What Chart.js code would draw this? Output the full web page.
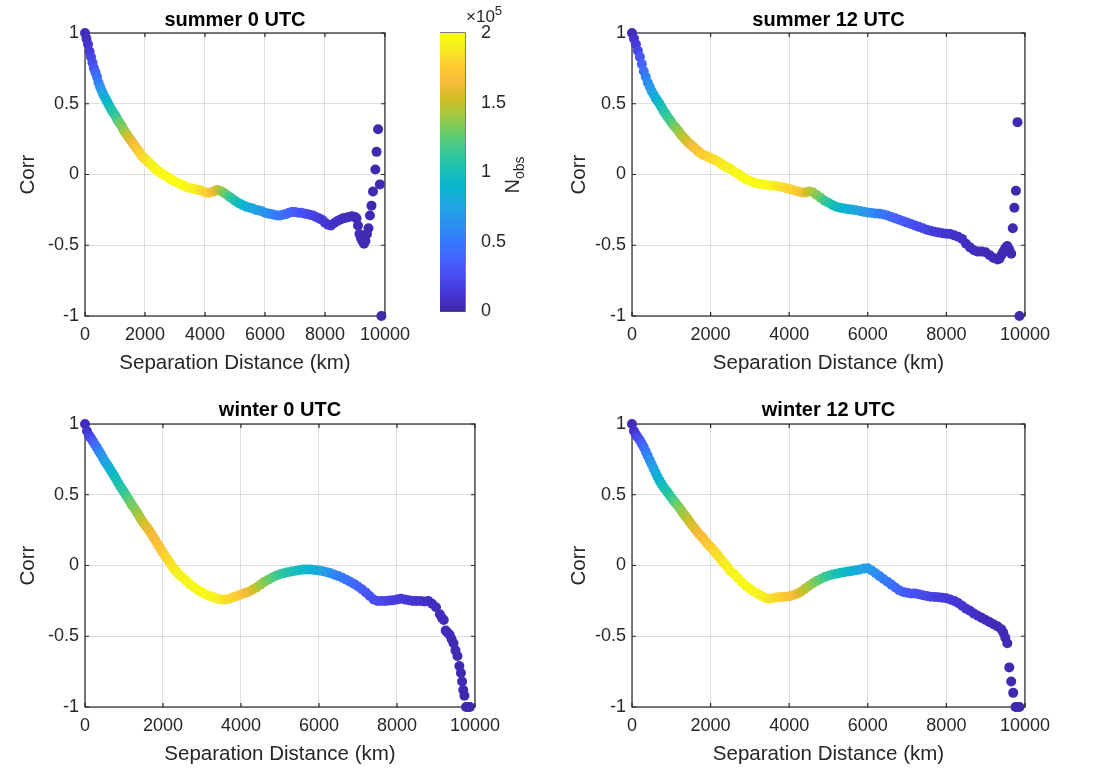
<!DOCTYPE html>
<html>
<head>
<meta charset="utf-8">
<script src="https://cdn.jsdelivr.net/npm/chart.js@4.4.1/dist/chart.umd.min.js"></script>
<style>
  body { margin: 0; background: #fff; width: 1094px; height: 771px; position: relative; overflow: hidden;
         font-family: 'Liberation Sans', Arial, Helvetica, sans-serif; color: #262626; }
  canvas { position: absolute; }
  #cbExp { position: absolute; left: 466px; top: 3px; font-size: 17px; }
  #cbExp sup { font-size: 13px; }
  #cbLabel { position: absolute; left: 514px; top: 175px; font-size: 20px; white-space: nowrap;
             transform: translate(-50%, -50%) rotate(-90deg); }
  #cbLabel sub { font-size: 14px; }
</style>
</head>
<body>
<canvas id="pA" width="418" height="378" style="left:0;top:0"></canvas>
<canvas id="pB" width="507" height="378" style="left:551px;top:0"></canvas>
<canvas id="pC" width="508" height="384" style="left:0;top:385px"></canvas>
<canvas id="pD" width="507" height="384" style="left:551px;top:385px"></canvas>
<canvas id="cb" width="80" height="330" style="left:440px;top:0"></canvas>
<div id="cbExp">&times;10<sup>5</sup></div>
<div id="cbLabel">N<sub>obs</sub></div>
<script>
// distance bins (km), shared by the dense part of every panel
const binKm = [0,100,200,300,400,500,600,700,800,900,1000,1100,1200,1300,1400,1500,1600,1700,1800,1900,
  2000,2100,2200,2300,2400,2500,2600,2700,2800,2900,3000,3100,3200,3300,3400,3500,3600,3700,3800,3900,
  4000,4100,4200,4300,4400,4500,4600,4700,4800,4900,5000,5100,5200,5300,5400,5500,5600,5700,5800,5900,
  6000,6100,6200,6300,6400,6500,6600,6700,6800,6900,7000,7100,7200,7300,7400,7500,7600,7700,7800,7900,
  8000,8100,8200,8300,8400,8500,8600,8700,8800,8900,9000];
// extra bins on the steep first part of the curves
const halfKm = [50,150,250,350,450,550,650,750,850,950,1050,1150,1250,1350,1450,1550,1650,1750,1850,1950,
  2050,2150,2250,2350,2450];

// summer 0 UTC
const sum0Corr = [1.00,0.92,0.83,0.75,0.69,0.62,0.57,0.53,0.49,0.45,
  0.42,0.38,0.35,0.31,0.28,0.25,0.22,0.19,0.16,0.13,
  0.11,0.09,0.07,0.05,0.03,0.015,0.00,-0.01,-0.025,-0.04,
  -0.05,-0.06,-0.07,-0.08,-0.09,-0.095,-0.10,-0.105,-0.11,-0.115,
  -0.125,-0.13,-0.125,-0.12,-0.11,-0.115,-0.125,-0.14,-0.155,-0.17,
  -0.185,-0.20,-0.21,-0.22,-0.23,-0.235,-0.24,-0.25,-0.255,-0.26,
  -0.27,-0.275,-0.28,-0.285,-0.29,-0.29,-0.285,-0.28,-0.27,-0.265,
  -0.265,-0.27,-0.27,-0.275,-0.28,-0.285,-0.29,-0.30,-0.31,-0.32,
  -0.34,-0.355,-0.36,-0.345,-0.33,-0.32,-0.31,-0.305,-0.30,-0.295,
  -0.30];
const sum0Nobs = [0.05,0.1,0.2,0.3,0.45,0.6,0.75,0.85,0.95,1.05,
  1.1,1.2,1.3,1.35,1.45,1.55,1.62,1.7,1.75,1.8,
  1.82,1.85,1.9,1.92,1.95,1.97,1.98,1.99,2.0,2.0,
  2.0,2.0,2.0,1.99,1.97,1.95,1.92,1.9,1.87,1.83,
  1.8,1.77,1.72,1.65,1.55,1.45,1.35,1.28,1.2,1.12,
  1.05,1.0,0.95,0.9,0.87,0.83,0.8,0.76,0.73,0.7,
  0.66,0.62,0.58,0.55,0.52,0.49,0.46,0.43,0.4,0.37,
  0.34,0.32,0.3,0.28,0.26,0.24,0.22,0.2,0.18,0.16,
  0.14,0.12,0.11,0.1,0.09,0.08,0.07,0.06,0.06,0.05,
  0.04];
const sum0HalfCorr = [0.96,0.87,0.79,0.72,0.65,0.595,0.55,0.51,0.47,0.435,0.40,0.365,0.33,0.295,0.265,
  0.235,0.205,0.175,0.145,0.12,0.10,0.08,0.06,0.04,0.022];
const sum0HalfNobs = [0.07,0.15,0.25,0.38,0.52,0.68,0.8,0.9,1.0,1.08,1.15,1.25,1.32,1.4,1.5,
  1.58,1.66,1.72,1.78,1.81,1.84,1.88,1.91,1.94,1.96];
const sum0TailKm   = [9050,9100,9150,9200,9250,9280,9300,9350,9400,9450,9500,9550,9600,9680,9720,9770,9830,9880];
const sum0TailCorr = [-0.31,-0.36,-0.42,-0.45,-0.47,-0.44,-0.49,-0.47,-0.42,-0.38,-0.29,-0.22,-0.12,0.035,0.16,0.32,-0.07,-1.0];
const sum0TailNobs = [0.04,0.04,0.04,0.035,0.035,0.035,0.03,0.03,0.03,0.03,0.03,0.025,0.025,0.02,0.02,0.02,0.02,0.01];

// summer 12 UTC
const sum12Corr = [1.00,0.92,0.83,0.73,0.65,0.59,0.54,0.50,0.45,0.41,
  0.37,0.335,0.30,0.265,0.235,0.21,0.185,0.16,0.14,0.13,
  0.115,0.105,0.09,0.07,0.055,0.04,0.02,0.005,-0.015,-0.035,
  -0.045,-0.055,-0.063,-0.068,-0.073,-0.077,-0.08,-0.083,-0.088,-0.095,
  -0.103,-0.11,-0.118,-0.125,-0.128,-0.12,-0.125,-0.145,-0.165,-0.185,
  -0.20,-0.215,-0.228,-0.235,-0.24,-0.245,-0.248,-0.252,-0.258,-0.264,
  -0.268,-0.272,-0.275,-0.278,-0.282,-0.29,-0.30,-0.31,-0.32,-0.33,
  -0.34,-0.35,-0.36,-0.37,-0.38,-0.39,-0.398,-0.405,-0.41,-0.415,
  -0.418,-0.42,-0.43,-0.44,-0.455,-0.49,-0.515,-0.535,-0.545,-0.545,
  -0.55];
const sum12Nobs = [0.05,0.15,0.3,0.45,0.6,0.72,0.82,0.95,1.05,1.12,
  1.2,1.3,1.38,1.45,1.52,1.6,1.68,1.72,1.75,1.78,
  1.8,1.82,1.85,1.88,1.9,1.92,1.94,1.96,1.98,2.0,
  2.0,2.0,2.0,2.0,2.0,1.97,1.93,1.88,1.85,1.82,
  1.8,1.78,1.75,1.7,1.6,1.5,1.42,1.35,1.27,1.18,
  1.1,1.03,0.98,0.94,0.9,0.86,0.82,0.78,0.74,0.7,
  0.66,0.62,0.58,0.54,0.5,0.46,0.42,0.39,0.36,0.33,
  0.3,0.28,0.26,0.24,0.22,0.2,0.18,0.16,0.14,0.13,
  0.12,0.11,0.1,0.09,0.08,0.07,0.06,0.06,0.05,0.05,
  0.04];
const sum12HalfCorr = [0.96,0.875,0.78,0.69,0.62,0.565,0.52,0.475,0.43,0.39,0.35,0.32,0.28,0.25,0.22,
  0.197,0.172,0.15,0.135,0.122,0.11,0.097,0.08,0.062,0.047];
const sum12HalfNobs = [0.1,0.22,0.38,0.52,0.66,0.77,0.88,1.0,1.08,1.16,1.25,1.34,1.42,1.48,1.56,
  1.64,1.7,1.74,1.77,1.79,1.81,1.84,1.87,1.89,1.91];
const sum12TailKm   = [9100,9200,9300,9350,9400,9450,9500,9550,9600,9650,9690,9730,9770,9810,9860];
const sum12TailCorr = [-0.57,-0.59,-0.60,-0.595,-0.57,-0.545,-0.52,-0.505,-0.53,-0.56,-0.38,-0.235,-0.115,0.37,-1.0];
const sum12TailNobs = [0.04,0.035,0.035,0.03,0.03,0.03,0.03,0.03,0.025,0.025,0.02,0.02,0.02,0.02,0.01];

// winter 0 UTC
const win0Corr = [1.00,0.92,0.88,0.835,0.79,0.74,0.70,0.655,0.61,0.56,
  0.52,0.475,0.43,0.39,0.345,0.30,0.265,0.225,0.18,0.135,
  0.09,0.05,0.01,-0.03,-0.06,-0.085,-0.11,-0.135,-0.155,-0.175,
  -0.19,-0.205,-0.215,-0.225,-0.235,-0.24,-0.24,-0.235,-0.225,-0.215,
  -0.205,-0.195,-0.185,-0.17,-0.155,-0.135,-0.115,-0.10,-0.085,-0.072,
  -0.062,-0.054,-0.047,-0.042,-0.037,-0.032,-0.029,-0.028,-0.029,-0.031,
  -0.035,-0.04,-0.047,-0.055,-0.065,-0.075,-0.087,-0.10,-0.115,-0.13,
  -0.148,-0.168,-0.19,-0.215,-0.24,-0.25,-0.25,-0.25,-0.248,-0.245,
  -0.24,-0.235,-0.24,-0.245,-0.25,-0.25,-0.25,-0.255,-0.25,-0.27,
  -0.295];
const win0Nobs = [0.05,0.15,0.3,0.45,0.58,0.7,0.8,0.9,1.0,1.05,
  1.1,1.2,1.3,1.35,1.42,1.5,1.57,1.62,1.66,1.7,
  1.75,1.8,1.84,1.87,1.9,1.92,1.94,1.96,1.97,1.98,
  1.98,1.97,1.95,1.93,1.91,1.88,1.85,1.82,1.8,1.77,
  1.73,1.68,1.62,1.56,1.5,1.4,1.35,1.3,1.25,1.2,
  1.15,1.1,1.07,1.04,1.01,0.98,0.95,0.92,0.88,0.84,
  0.8,0.75,0.7,0.65,0.6,0.56,0.52,0.48,0.44,0.41,
  0.38,0.35,0.32,0.3,0.28,0.26,0.24,0.22,0.2,0.18,
  0.17,0.15,0.14,0.13,0.12,0.11,0.1,0.09,0.08,0.07,
  0.06];
const win0HalfCorr = [0.95,0.90,0.857,0.812,0.765,0.72,0.677,0.632,0.585,0.54,0.497,0.452,0.41,0.367,0.322,
  0.282,0.245,0.202,0.157,0.112,0.07,0.03,-0.01,-0.045,-0.072];
const win0HalfNobs = [0.1,0.22,0.38,0.52,0.64,0.75,0.85,0.95,1.02,1.08,1.15,1.25,1.32,1.38,1.46,
  1.54,1.6,1.64,1.68,1.72,1.78,1.82,1.86,1.89,1.91];
const win0TailKm   = [9100,9150,9200,9250,9300,9350,9400,9450,9500,9550,9600,9640,9670,9700,9730,9770,9820,9870];
const win0TailCorr = [-0.345,-0.37,-0.385,-0.46,-0.475,-0.49,-0.52,-0.55,-0.60,-0.64,-0.71,-0.76,-0.82,-0.88,-0.92,-1.0,-1.0,-1.0];
const win0TailNobs = [0.05,0.05,0.045,0.045,0.04,0.04,0.04,0.035,0.035,0.03,0.03,0.03,0.025,0.025,0.02,0.02,0.02,0.01];

// winter 12 UTC
const win12Corr = [1.00,0.925,0.885,0.835,0.775,0.715,0.655,0.60,0.555,0.52,
  0.48,0.445,0.41,0.37,0.335,0.295,0.26,0.225,0.195,0.16,
  0.13,0.10,0.065,0.03,0.00,-0.04,-0.06,-0.09,-0.12,-0.145,
  -0.165,-0.185,-0.20,-0.215,-0.23,-0.235,-0.23,-0.225,-0.222,-0.22,
  -0.218,-0.21,-0.20,-0.185,-0.165,-0.145,-0.125,-0.11,-0.095,-0.082,
  -0.072,-0.064,-0.058,-0.052,-0.047,-0.043,-0.039,-0.034,-0.028,-0.022,
  -0.02,-0.035,-0.055,-0.075,-0.095,-0.115,-0.135,-0.155,-0.175,-0.187,
  -0.193,-0.197,-0.198,-0.203,-0.21,-0.215,-0.22,-0.222,-0.225,-0.228,
  -0.232,-0.24,-0.25,-0.265,-0.285,-0.305,-0.32,-0.34,-0.355,-0.37,
  -0.385];
const win12Nobs = [0.05,0.15,0.28,0.42,0.55,0.68,0.78,0.88,0.98,1.05,
  1.12,1.22,1.32,1.38,1.45,1.52,1.58,1.63,1.68,1.72,
  1.76,1.8,1.83,1.86,1.9,1.93,1.95,1.97,1.98,1.98,
  1.98,1.97,1.95,1.93,1.9,1.87,1.84,1.81,1.78,1.75,
  1.72,1.67,1.6,1.54,1.48,1.42,1.36,1.3,1.24,1.18,
  1.13,1.08,1.04,1.0,0.96,0.92,0.88,0.84,0.8,0.76,
  0.72,0.68,0.63,0.58,0.54,0.5,0.46,0.42,0.39,0.36,
  0.33,0.31,0.29,0.27,0.25,0.23,0.21,0.19,0.17,0.16,
  0.15,0.14,0.13,0.12,0.11,0.1,0.09,0.08,0.07,0.06,
  0.05];
const win12HalfCorr = [0.95,0.905,0.86,0.805,0.745,0.685,0.627,0.577,0.537,0.50,0.462,0.427,0.39,0.352,0.315,
  0.277,0.242,0.21,0.177,0.145,0.115,0.082,0.047,0.015,-0.02];
const win12HalfNobs = [0.1,0.22,0.35,0.48,0.62,0.73,0.83,0.93,1.02,1.08,1.17,1.27,1.35,1.42,1.48,
  1.55,1.6,1.66,1.7,1.74,1.78,1.82,1.85,1.88,1.92];
const win12TailKm   = [9100,9200,9300,9400,9450,9500,9550,9600,9650,9700,9760,9820,9860];
const win12TailCorr = [-0.40,-0.415,-0.43,-0.45,-0.475,-0.51,-0.55,-0.72,-0.82,-0.90,-1.0,-1.0,-1.0];
const win12TailNobs = [0.05,0.045,0.045,0.04,0.04,0.035,0.035,0.03,0.03,0.025,0.02,0.02,0.01];

// axes ticks
const xTicks = [0, 2000, 4000, 6000, 8000, 10000];
const yTicks = [-1, -0.5, 0, 0.5, 1];
const cbTicks = [0, 0.5, 1, 1.5, 2];   // x 10^5
const nobsMax = 2;

const FONT = "'Liberation Sans', Arial, Helvetica, sans-serif";
const AXIS = '#262626';

// parula colormap (t, r, g, b)
const parulaStops = [
  [0/63, 0.2422,0.1504,0.6603], [4/63, 0.2706,0.2147,0.8364], [8/63, 0.2813,0.3006,0.9414],
  [12/63,0.2699,0.3892,0.9906], [16/63,0.1963,0.4847,0.9892], [20/63,0.1687,0.5703,0.9359],
  [24/63,0.1248,0.6459,0.8883], [28/63,0.0297,0.7082,0.8163], [32/63,0.0964,0.7500,0.7120],
  [36/63,0.2161,0.7843,0.5923], [40/63,0.3909,0.8029,0.4354], [44/63,0.6174,0.7876,0.2612],
  [48/63,0.8203,0.7498,0.1535], [52/63,0.9728,0.7298,0.2394], [56/63,0.9892,0.8136,0.1885],
  [60/63,0.9628,0.9373,0.1265], [63/63,0.9769,0.9839,0.0805]
];
function rgb(r, g, b) { return `rgb(${Math.round(r*255)},${Math.round(g*255)},${Math.round(b*255)})`; }
function parula(t) {
  t = Math.min(1, Math.max(0, t));
  for (let i = 1; i < parulaStops.length; i++) {
    const a = parulaStops[i-1], b = parulaStops[i];
    if (t <= b[0]) {
      const f = (t - a[0]) / (b[0] - a[0]);
      return rgb(a[1]+(b[1]-a[1])*f, a[2]+(b[2]-a[2])*f, a[3]+(b[3]-a[3])*f);
    }
  }
  const l = parulaStops[parulaStops.length-1];
  return rgb(l[1], l[2], l[3]);
}

// MATLAB-like box with inward tick marks
const boxPlugin = {
  id: 'box',
  beforeDatasetsDraw(chart, args, opts) {
    const { ctx, chartArea: a } = chart;
    ctx.save();
    ctx.strokeStyle = AXIS;
    ctx.lineWidth = 1.2;
    ctx.strokeRect(a.left, a.top, a.right - a.left, a.bottom - a.top);
    const tl = 4;
    ctx.beginPath();
    if (opts.x) {
      const sx = chart.scales.x;
      opts.x.forEach(v => {
        const px = sx.getPixelForValue(v);
        ctx.moveTo(px, a.bottom); ctx.lineTo(px, a.bottom - tl);
        ctx.moveTo(px, a.top); ctx.lineTo(px, a.top + tl);
      });
    }
    if (opts.y) {
      const sy = chart.scales.y;
      opts.y.forEach(v => {
        const py = sy.getPixelForValue(v);
        if (opts.left !== false) { ctx.moveTo(a.left, py); ctx.lineTo(a.left + tl, py); }
        ctx.moveTo(a.right, py); ctx.lineTo(a.right - tl, py);
      });
    }
    ctx.stroke();
    ctx.restore();
  }
};

// merge the 100 km bins with the half bins, keeping distance order
function merge(km1, v1, km2, v2) {
  const rows = km1.map((d, i) => [d, v1[i]]).concat(km2.map((d, i) => [d, v2[i]]));
  rows.sort((a, b) => a[0] - b[0]);
  return rows;
}

function makePanel(id, title, rowsCorr, rowsNobs, wy, titlePad) {
  const pts = rowsCorr.map(r => ({ x: r[0], y: r[1] }));
  const cols = rowsNobs.map(r => parula(r[1] / nobsMax));
  new Chart(document.getElementById(id), {
    type: 'scatter',
    data: { datasets: [{ data: pts, pointBackgroundColor: cols, pointBorderWidth: 0,
                         pointRadius: 5, clip: false }] },
    plugins: [boxPlugin],
    options: {
      responsive: false, animation: false, events: [],
      layout: { padding: { left: 0, right: 30, top: 0, bottom: 0 } },
      plugins: {
        legend: { display: false }, tooltip: { enabled: false },
        title: { display: true, text: title, color: '#000', fullSize: false,
                 font: { family: FONT, size: 20, weight: 'bold' },
                 padding: { top: titlePad[0], bottom: titlePad[1] } },
        box: { x: xTicks, y: yTicks }
      },
      scales: {
        x: {
          type: 'linear', min: 0, max: 10000,
          afterBuildTicks: s => { s.ticks = xTicks.map(v => ({ value: v })); },
          ticks: { color: AXIS, font: { family: FONT, size: 18 }, padding: 8, maxRotation: 0,
                   callback: v => String(v) },
          grid: { color: 'rgba(38,38,38,0.15)', drawTicks: false },
          border: { display: false },
          title: { display: true, text: 'Separation Distance (km)', color: AXIS,
                   font: { family: FONT, size: 20.5 }, padding: { top: 0, bottom: 2 } },
          afterFit: s => { s.height = 62; }
        },
        y: {
          type: 'linear', min: -1, max: 1,
          afterBuildTicks: s => { s.ticks = yTicks.map(v => ({ value: v })); },
          ticks: { color: AXIS, font: { family: FONT, size: 18 }, padding: 6,
                   callback: v => String(v) },
          grid: { color: 'rgba(38,38,38,0.15)', drawTicks: false },
          border: { display: false },
          title: { display: true, text: 'Corr', color: AXIS,
                   font: { family: FONT, size: 20.5 }, padding: { top: 16, bottom: 0 } },
          afterFit: s => { s.width = wy; }
        }
      }
    }
  });
}

function panelRows(corr, nobs, halfCorr, halfNobs, tailKm, tailCorr, tailNobs) {
  return {
    c: merge(binKm, corr, halfKm, halfCorr).concat(tailKm.map((d, i) => [d, tailCorr[i]])),
    n: merge(binKm, nobs, halfKm, halfNobs).concat(tailKm.map((d, i) => [d, tailNobs[i]]))
  };
}

const rA = panelRows(sum0Corr, sum0Nobs, sum0HalfCorr, sum0HalfNobs, sum0TailKm, sum0TailCorr, sum0TailNobs);
const rB = panelRows(sum12Corr, sum12Nobs, sum12HalfCorr, sum12HalfNobs, sum12TailKm, sum12TailCorr, sum12TailNobs);
const rC = panelRows(win0Corr, win0Nobs, win0HalfCorr, win0HalfNobs, win0TailKm, win0TailCorr, win0TailNobs);
const rD = panelRows(win12Corr, win12Nobs, win12HalfCorr, win12HalfNobs, win12TailKm, win12TailCorr, win12TailNobs);

makePanel('pA', 'summer 0 UTC', rA.c, rA.n, 85, [8, 1]);
makePanel('pB', 'summer 12 UTC', rB.c, rB.n, 81, [8, 1]);
makePanel('pC', 'winter 0 UTC', rC.c, rC.n, 85, [13, 2]);
makePanel('pD', 'winter 12 UTC', rD.c, rD.n, 81, [13, 2]);

// colorbar
new Chart(document.getElementById('cb'), {
  type: 'bar',
  data: { labels: [''], datasets: [{
    data: [[0, nobsMax]], borderWidth: 0, barPercentage: 1, categoryPercentage: 1,
    backgroundColor: c => {
      const a = c.chart.chartArea;
      if (!a) return null;
      const g = c.chart.ctx.createLinearGradient(0, a.bottom, 0, a.top);
      parulaStops.forEach(s => g.addColorStop(s[0], rgb(s[1], s[2], s[3])));
      return g;
    }
  }] },
  plugins: [boxPlugin],
  options: {
    responsive: false, animation: false, events: [],
    layout: { padding: { left: 0, right: 0, top: 33, bottom: 14 } },
    plugins: { legend: { display: false }, tooltip: { enabled: false },
               box: { y: cbTicks.slice(1, -1), left: false } },
    scales: {
      x: { display: false },
      y: {
        position: 'right', min: 0, max: nobsMax,
        afterBuildTicks: s => { s.ticks = cbTicks.map(v => ({ value: v })); },
        ticks: { color: AXIS, font: { family: FONT, size: 18 }, padding: 8, callback: v => String(v) },
        grid: { display: false }, border: { display: false },
        afterFit: s => { s.width = 55; }
      }
    }
  }
});
</script>
</body>
</html>
